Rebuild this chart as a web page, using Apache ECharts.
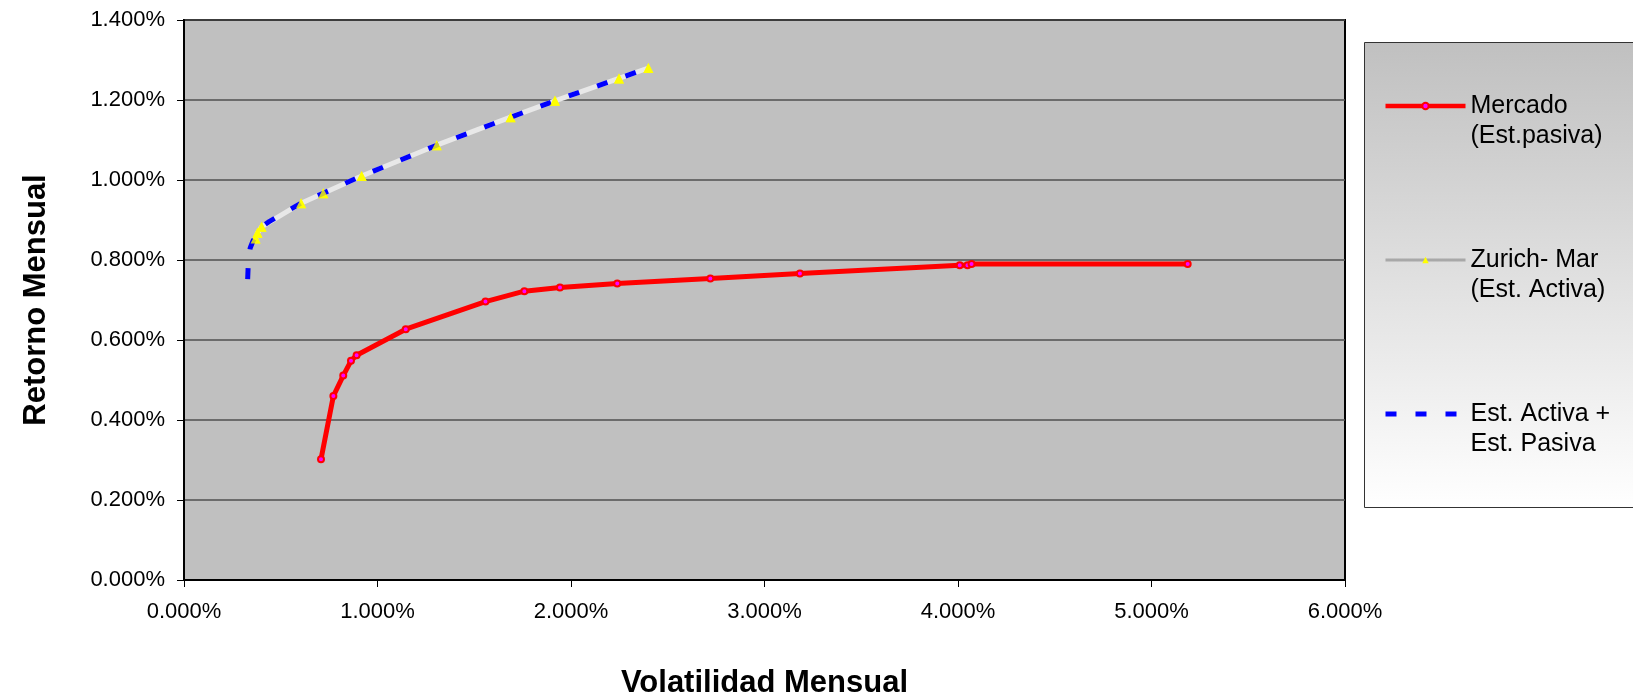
<!DOCTYPE html>
<html>
<head>
<meta charset="utf-8">
<script src="https://cdn.jsdelivr.net/npm/echarts@6/dist/echarts.min.js"></script>
<style>
html,body{margin:0;padding:0;background:#fff;}
#chart{width:1633px;height:699px;}
</style>
</head>
<body>
<div id="chart"></div>
<script>
// Data (percent units): [volatility %, return %]
const mercado = [
  [0.708, 0.302], [0.772, 0.460], [0.823, 0.511], [0.863, 0.548], [0.892, 0.562],
  [1.146, 0.627], [1.558, 0.696], [1.759, 0.722], [1.943, 0.731], [2.239, 0.741],
  [2.720, 0.754], [3.183, 0.766], [4.009, 0.787], [4.049, 0.787], [4.070, 0.790],
  [5.187, 0.790]
];
const zurich = [
  [0.370, 0.854], [0.380, 0.868], [0.401, 0.883], [0.605, 0.942], [0.720, 0.967],
  [0.918, 1.010], [1.306, 1.087], [1.688, 1.157], [1.917, 1.198], [2.248, 1.254],
  [2.400, 1.280]
];
const combinada = [
  [0.329, 0.752], [0.333, 0.800], [0.342, 0.830], [0.357, 0.848], [0.378, 0.866],
  [0.401, 0.883], [0.440, 0.896], [0.605, 0.942], [0.720, 0.967], [0.918, 1.010],
  [1.306, 1.087], [1.688, 1.157], [1.917, 1.198], [2.248, 1.254], [2.400, 1.280]
];
const seriesNames = ['Mercado\n(Est.pasiva)', 'Zurich- Mar\n(Est. Activa)', 'Est. Activa +\nEst. Pasiva'];
const xAxisTitle = 'Volatilidad Mensual';
const yAxisTitle = 'Retorno Mensual';

const FONT = '"Liberation Sans", Arial, sans-serif';
const chart = echarts.init(document.getElementById('chart'), null, {renderer: 'canvas'});
const fmt = v => v.toFixed(3) + '%';

chart.setOption({
  animation: false,
  backgroundColor: '#ffffff',
  textStyle: {fontFamily: FONT, color: '#000'},
  graphic: [{
    type: 'rect',
    z: -10,
    shape: {x: 1364.5, y: 42.5, width: 280, height: 465},
    style: {
      fill: new echarts.graphic.LinearGradient(0, 0, 0, 1, [
        {offset: 0, color: '#c0c0c0'},
        {offset: 1, color: '#ffffff'}
      ]),
      stroke: '#333',
      lineWidth: 1
    }
  }],
  grid: {
    left: 184, right: 288, top: 20, bottom: 119,
    show: true, backgroundColor: '#c0c0c0', borderColor: '#000', borderWidth: 2,
    containLabel: false,
    outerBoundsMode: 'none'
  },
  legend: {
    orient: 'vertical',
    left: 1383, top: 58,
    padding: 0,
    itemWidth: 80, itemHeight: 8,
    itemGap: 58,
    selectedMode: false,
    formatter: name => ' \n' + name,
    data: [
      {name: seriesNames[0], lineStyle: {color: '#ff0000', width: 4.5}},
      {name: seriesNames[1], lineStyle: {color: '#a8a8a8', width: 3}},
      {name: seriesNames[2], lineStyle: {color: '#0000ff', width: 5, type: [11, 19]}, itemStyle: {opacity: 0}}
    ],
    textStyle: {fontFamily: FONT, fontSize: 25, lineHeight: 30, color: '#000', padding: [6, 0, 0, 0]}
  },
  xAxis: {
    type: 'value', min: 0, max: 6, interval: 1,
    name: xAxisTitle, nameLocation: 'middle', nameGap: 88,
    nameTextStyle: {fontFamily: FONT, fontSize: 31, fontWeight: 'bold', color: '#000'},
    axisLine: {show: true, lineStyle: {color: '#000', width: 2}},
    axisTick: {show: true, length: 7, lineStyle: {color: '#000', width: 1}},
    axisLabel: {formatter: fmt, fontFamily: FONT, fontSize: 22, color: '#000', margin: 21},
    splitLine: {show: false}
  },
  yAxis: {
    type: 'value', min: 0, max: 1.4, interval: 0.2,
    name: yAxisTitle, nameLocation: 'middle', nameGap: 132, nameRotate: 90,
    nameTextStyle: {fontFamily: FONT, fontSize: 31, fontWeight: 'bold', color: '#000'},
    axisLine: {show: true, lineStyle: {color: '#000', width: 2}},
    axisTick: {show: true, length: 7, lineStyle: {color: '#000', width: 1}},
    axisLabel: {formatter: fmt, fontFamily: FONT, fontSize: 22, color: '#000', margin: 19},
    splitLine: {show: true, lineStyle: {color: '#505050', width: 1.5}}
  },
  series: [
    {
      name: seriesNames[0], type: 'line', data: mercado, z: 2,
      symbol: 'circle', symbolSize: 6, showSymbol: true,
      lineStyle: {color: '#ff0000', width: 5},
      itemStyle: {color: '#ff00ff', borderColor: '#ff0000', borderWidth: 2}
    },
    {
      name: seriesNames[1], type: 'line', data: zurich, z: 3,
      symbol: 'triangle', symbolSize: 10, showSymbol: true,
      lineStyle: {color: '#e8e8e8', width: 5},
      itemStyle: {color: '#ffff00', borderWidth: 0}
    },
    {
      name: seriesNames[2], type: 'line', data: combinada, z: 4,
      symbol: 'none', showSymbol: false,
      lineStyle: {color: '#0000ff', width: 5, type: [11, 19]},
      itemStyle: {color: '#0000ff'}
    },
    {
      name: 'zurich-markers', type: 'scatter', data: zurich, z: 5,
      symbol: 'triangle', symbolSize: 10,
      itemStyle: {color: '#ffff00'}
    }
  ]
});
</script>
</body>
</html>
